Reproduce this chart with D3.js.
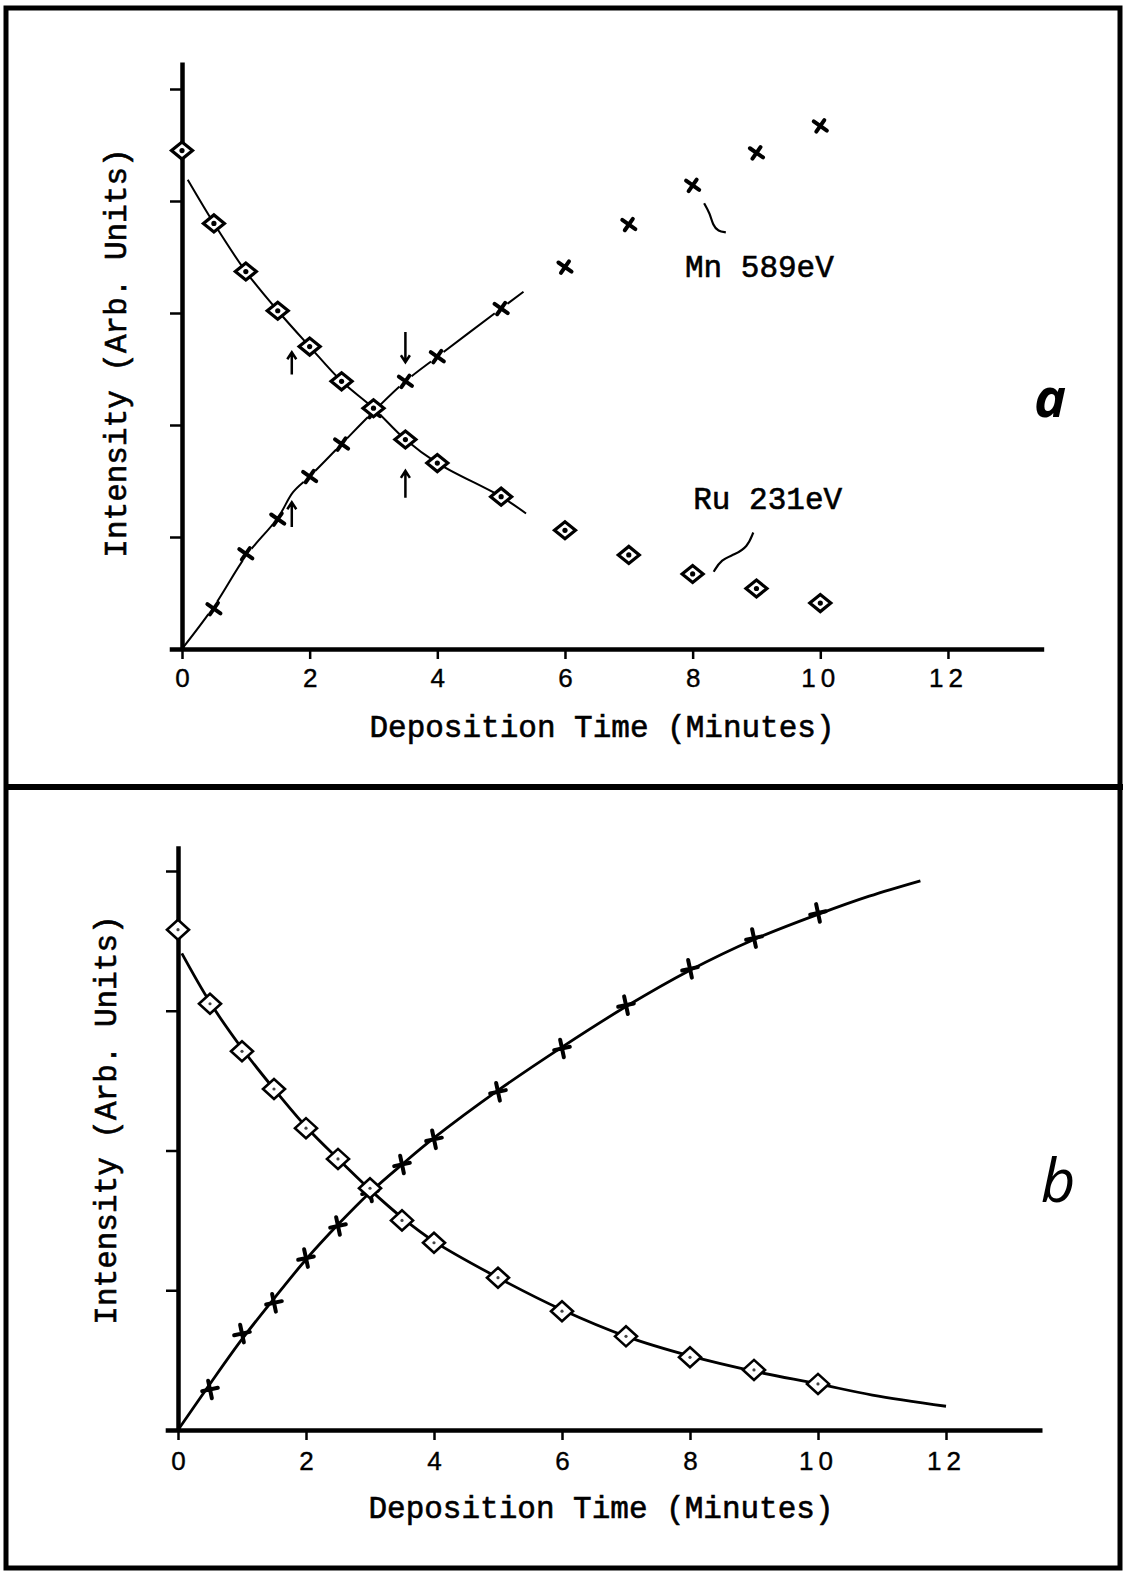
<!DOCTYPE html>
<html>
<head>
<meta charset="utf-8">
<script src="https://cdn.jsdelivr.net/npm/d3@7"></script>
<style>
  html, body { margin: 0; padding: 0; background: #fff; }
  svg { display: block; }
</style>
</head>
<body>
<div id="chart-container"></div>
<script>
// Deposition times (minutes) of the measured points
const times = [0, 0.5, 1, 1.5, 2, 2.5, 3, 3.5, 4, 5, 6, 7, 8, 9, 10];
const mnTimes = [0.5, 1, 1.5, 2, 2.5, 3, 3.5, 4, 5, 6, 7, 8, 9, 10];

// Panel a: measured intensities (tick units)
const ruA = [4.45, 3.80, 3.37, 3.02, 2.70, 2.39, 2.15, 1.87, 1.66, 1.36, 1.06, 0.84, 0.67, 0.54, 0.41];
const mnA = [0.36, 0.85, 1.16, 1.54, 1.83, 2.12, 2.39, 2.61, 3.04, 3.41, 3.79, 4.14, 4.43, 4.67];

// Panel a: hand drawn lines [t, value]
const ruLineA = [[0.09, 4.19], [0.5, 3.80], [1, 3.37], [1.5, 3.02], [2, 2.70], [2.5, 2.39], [3, 2.15],
                 [3.5, 1.87], [4, 1.66], [5, 1.36], [5.39, 1.21]];
const mnLineA = [[0, 0], [0.5, 0.38], [1, 0.83], [1.5, 1.17], [1.74, 1.40], [2, 1.54], [2.5, 1.83],
                 [3, 2.12], [3.5, 2.39], [4, 2.61], [5, 3.04], [5.35, 3.19]];

// Panel a: arrows [t, tail, tip]
const arrowsA = [[1.72, 2.45, 2.65], [1.72, 1.09, 1.31], [3.5, 2.83, 2.56], [3.5, 1.35, 1.59]];

// Panel a: leader squiggles to the labels
const mnLeader = [[8.18, 3.98], [8.27, 3.89], [8.32, 3.78], [8.40, 3.73], [8.52, 3.72]];
const ruLeader = [[8.95, 1.04], [8.86, 0.91], [8.65, 0.84], [8.45, 0.80], [8.33, 0.69]];

// Panel b: measured intensities
const ruB = [3.58, 3.05, 2.71, 2.44, 2.16, 1.94, 1.73, 1.50, 1.34, 1.09, 0.85, 0.67, 0.52, 0.43, 0.33];
const mnB = [0.29, 0.69, 0.91, 1.23, 1.46, 1.70, 1.90, 2.08, 2.42, 2.73, 3.04, 3.30, 3.52, 3.70];

// Panel b: fitted curves
const ruLineB = [[0.06, 3.41], [0.5, 3.06], [1, 2.73], [1.5, 2.44], [2, 2.17], [2.5, 1.94], [3, 1.72],
                 [3.5, 1.52], [4, 1.35], [5, 1.09], [6, 0.86], [7, 0.67], [8, 0.53], [9, 0.42],
                 [10, 0.33], [10.85, 0.25], [12, 0.17]];
const mnLineB = [[0, 0], [0.5, 0.33], [1, 0.65], [1.5, 0.94], [2, 1.22], [2.5, 1.47], [3, 1.70],
                 [3.5, 1.90], [4, 2.09], [5, 2.43], [6, 2.74], [7, 3.03], [8, 3.29], [9, 3.51],
                 [10, 3.69], [10.8, 3.82], [11.6, 3.93]];

const xTicks = [0, 2, 4, 6, 8, 10, 12];
const xTitle = "Deposition Time (Minutes)";
const yTitle = "Intensity (Arb. Units)";

const W = 1123, H = 1573;
const mono = "'Liberation Mono', 'Courier New', monospace";

const svg = d3.select("#chart-container")
    .append("svg")
    .attr("width", W)
    .attr("height", H);

svg.append("rect").attr("width", W).attr("height", H).attr("fill", "#fff");

// outer frame and divider
svg.append("rect")
    .attr("x", 6).attr("y", 8)
    .attr("width", 1114).attr("height", 1560)
    .attr("fill", "none")
    .attr("stroke", "#000")
    .attr("stroke-width", 5);

svg.append("line")
    .attr("x1", 6).attr("x2", W)
    .attr("y1", 787).attr("y2", 787)
    .attr("stroke", "#000")
    .attr("stroke-width", 6);

function diamond(w, h) {
    return `M${-w},0L0,${-h}L${w},0L0,${h}Z`;
}

// typewriter text looks a bit heavier than Liberation Mono
function typed(sel) {
    return sel
        .style("font-family", mono)
        .style("font-size", "31px")
        .attr("fill", "#000")
        .attr("stroke", "#000")
        .attr("stroke-width", 0.6);
}

function drawPanel(p) {
    const g = svg.append("g");

    const x = d3.scaleLinear()
        .domain([-0.2, 13.5])
        .range([p.x0 - 0.2 * p.ppm, p.x0 + 13.5 * p.ppm]);
    const y = d3.scaleLinear()
        .domain([0, p.yTop])
        .range([p.y0, p.y0 - p.yTop * p.ppu]);

    // x axis
    const xAxis = g.append("g")
        .attr("transform", `translate(0,${p.y0})`)
        .call(d3.axisBottom(x).tickValues(xTicks).tickSize(10).tickSizeOuter(0).tickFormat(d => d));
    xAxis.select(".domain").attr("stroke-width", 4.5);
    xAxis.selectAll(".tick line").attr("stroke-width", 2.5);
    xAxis.selectAll(".tick text")
        .attr("y", p.tickDy)
        .attr("dy", null)
        .attr("fill", "#000")
        .attr("stroke", "#000")
        .attr("stroke-width", 0.4)
        .style("font-family", "'Liberation Sans', Arial, sans-serif")
        .style("font-size", "26px")
        .style("letter-spacing", d => d >= 10 ? "5px" : "0px");

    // y axis
    const yAxis = g.append("g")
        .attr("transform", `translate(${x(0)},0)`)
        .call(d3.axisLeft(y).tickValues(p.yTicks).tickSize(12).tickSizeOuter(0).tickFormat(""));
    yAxis.select(".domain").attr("stroke-width", 4.5);
    yAxis.selectAll(".tick line").attr("stroke-width", 2.5);

    // axis titles
    g.append("text")
        .attr("x", p.xTitleX)
        .attr("y", p.xTitleY)
        .attr("text-anchor", "middle")
        .call(typed)
        .text(xTitle);

    g.append("text")
        .attr("transform", `translate(${p.yTitleX},${p.yTitleY}) rotate(-90)`)
        .attr("text-anchor", "middle")
        .call(typed)
        .text(yTitle);

    // lines
    const line = d3.line()
        .x(d => x(d[0]))
        .y(d => y(d[1]))
        .curve(d3.curveCatmullRom.alpha(0.5));

    [p.ruLine, p.mnLine].forEach(pts => {
        g.append("path")
            .datum(pts)
            .attr("fill", "none")
            .attr("stroke", "#000")
            .attr("stroke-width", p.lineWidth)
            .attr("d", line);
    });

    // Mn crosses
    const mnPts = mnTimes.map((t, i) => [t, p.mn[i]]);
    const cross = g.selectAll(".mn")
        .data(mnPts)
        .join("g")
        .attr("class", "mn")
        .attr("transform", d => `translate(${x(d[0])},${y(d[1])}) rotate(${p.crossRot})`);
    if (p.crossGap) {
        cross.filter(d => d[0] <= 5)
            .append("circle")
            .attr("r", p.crossGap)
            .attr("fill", "#fff");
    }
    cross.append("path")
        .attr("d", `M${-p.crossW},0H${p.crossW}M0,${-p.crossH}V${p.crossH}`)
        .attr("stroke", "#000")
        .attr("stroke-width", p.crossWidth)
        .attr("stroke-linecap", "round");

    // Ru diamonds
    const ruPts = times.map((t, i) => [t, p.ru[i]]);
    const dia = g.selectAll(".ru")
        .data(ruPts)
        .join("g")
        .attr("class", "ru")
        .attr("transform", d => `translate(${x(d[0])},${y(d[1])})`);
    dia.append("path")
        .attr("d", diamond(p.diaW, p.diaH))
        .attr("fill", "#fff")
        .attr("stroke", "#000")
        .attr("stroke-width", p.diaStroke)
        .attr("stroke-linejoin", "miter");
    dia.append("circle")
        .attr("r", p.dotR)
        .attr("fill", p.dotColor);

    return { g, x, y, line };
}

// Panel a
const a = drawPanel({
    x0: 182, ppm: 63.83, y0: 649, ppu: 112, yTop: 5.24, yTicks: [1, 2, 3, 4, 5],
    tickDy: 38, xTitleX: 602, xTitleY: 737, yTitleX: 126, yTitleY: 353,
    ru: ruA, mn: mnA, ruLine: ruLineA, mnLine: mnLineA, lineWidth: 2,
    crossRot: 35, crossW: 8, crossH: 7, crossWidth: 4, crossGap: 8,
    diaW: 10.5, diaH: 8.5, diaStroke: 3.2, dotR: 2.6, dotColor: "#000"
});

// arrows
const arrowG = a.g.append("g")
    .attr("fill", "none")
    .attr("stroke", "#000")
    .attr("stroke-width", 2.5);
arrowsA.forEach(([t, tail, tip]) => {
    const xp = a.x(t), y1 = a.y(tail), y2 = a.y(tip);
    const dir = y2 < y1 ? 1 : -1;
    arrowG.append("path")
        .attr("d", `M${xp},${y1}L${xp},${y2}M${xp - 4.5},${y2 + dir * 7}L${xp},${y2}L${xp + 4.5},${y2 + dir * 7}`);
});

// leaders
const leader = d3.line().x(d => a.x(d[0])).y(d => a.y(d[1])).curve(d3.curveBasis);
[mnLeader, ruLeader].forEach(pts => {
    a.g.append("path")
        .datum(pts)
        .attr("fill", "none")
        .attr("stroke", "#000")
        .attr("stroke-width", 2.2)
        .attr("d", leader);
});

a.g.append("text")
    .attr("x", a.x(7.88)).attr("y", a.y(3.32))
    .call(typed)
    .text("Mn 589eV");
a.g.append("text")
    .attr("x", a.x(8.01)).attr("y", a.y(1.25))
    .call(typed)
    .text("Ru 231eV");

svg.append("text")
    .attr("x", 1050).attr("y", 417)
    .attr("text-anchor", "middle")
    .style("font-family", "'Open Sans', sans-serif")
    .style("font-style", "italic")
    .style("font-weight", 700)
    .style("font-size", "54px")
    .text("a");

// Panel b
drawPanel({
    x0: 178, ppm: 64, y0: 1430, ppu: 139.75, yTop: 4.18, yTicks: [1, 2, 3, 4],
    tickDy: 40, xTitleX: 601, xTitleY: 1518, yTitleX: 116, yTitleY: 1120,
    ru: ruB, mn: mnB, ruLine: ruLineB, mnLine: mnLineB, lineWidth: 2.8,
    crossRot: -12, crossW: 8, crossH: 9, crossWidth: 4, crossGap: 0,
    diaW: 11, diaH: 10, diaStroke: 2.6, dotR: 1.6, dotColor: "#444"
});

svg.append("text")
    .attr("x", 1058).attr("y", 1202)
    .attr("text-anchor", "middle")
    .style("font-family", "'Open Sans', sans-serif")
    .style("font-style", "italic")
    .style("font-weight", 400)
    .style("font-size", "60px")
    .text("b");
</script>
</body>
</html>
